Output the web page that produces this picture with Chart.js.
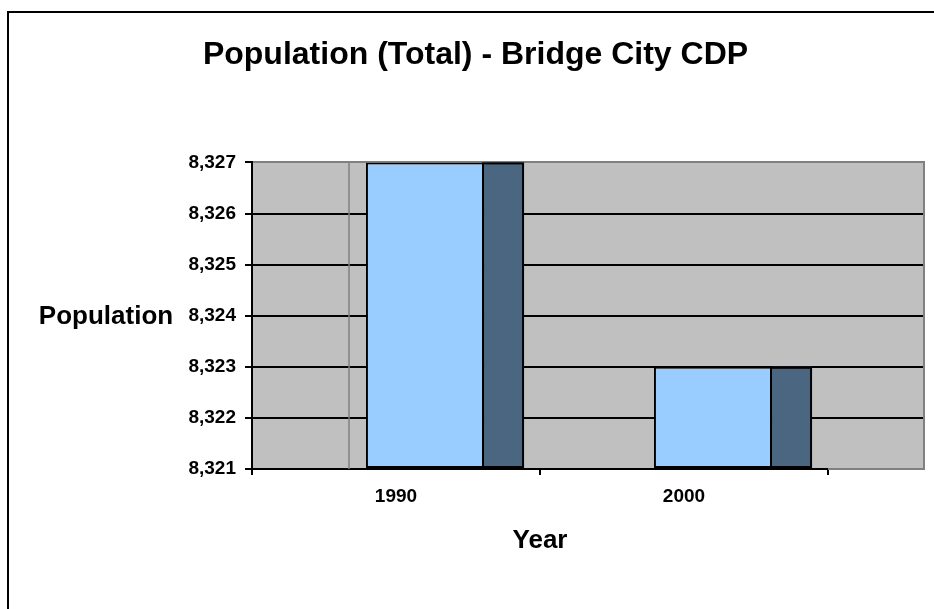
<!DOCTYPE html>
<html>
<head>
<meta charset="utf-8">
<title>Population (Total) - Bridge City CDP</title>
<script src="https://cdn.jsdelivr.net/npm/chart.js@4"></script>
<style>
  html, body { margin: 0; padding: 0; background: #fff; overflow: hidden; }
  .frame {
    position: absolute; left: 7px; top: 11px;
    width: 1000px; height: 700px;
    border: 2px solid #000;
  }
  .chart-box { position: absolute; left: 0; top: 0; width: 934px; height: 609px; }
</style>
</head>
<body>
<div class="frame"></div>
<div class="chart-box"><canvas id="popChart"></canvas></div>
<script>
// data
const years = ["1990", "2000"];
const population = [8327, 8323];
const yMin = 8321;
const yMax = 8327;
const yStep = 1;

// look of the old 3D column chart
const WALL = "#C0C0C0";
const EDGE = "#808080";
const FRONT = "#99CCFF";
const SIDE = "#4B6680";
const DEPTH = 97;       // how far the back wall sits to the right
const FRONT_SHIFT = 29; // bar front face offset into the depth
const SIDE_W = 40;      // visible side face of each column

Chart.defaults.font.family = "'Liberation Sans', Arial, sans-serif";
Chart.defaults.color = "#000";

// same pixel snapping Chart.js uses for its grid lines
const snap = (px, w) => Math.round(px - w / 2) + w / 2;

// gray side wall + back wall, gridlines running onto the back wall
const wallsPlugin = {
  id: "walls",
  beforeDraw(chart) {
    const { ctx, chartArea: a } = chart;
    ctx.save();
    ctx.fillStyle = WALL;
    ctx.fillRect(a.left, a.top, a.right - a.left + DEPTH, a.bottom - a.top);
    ctx.restore();
  },
  beforeDatasetsDraw(chart) {
    const { ctx, chartArea: a, scales } = chart;
    const y = scales.y;
    ctx.save();
    ctx.lineWidth = 2;
    y.ticks.forEach((t, i) => {
      const py = snap(y.getPixelForTick(i), 2);
      ctx.strokeStyle = t.value === yMin || t.value === yMax ? EDGE : "#000";
      ctx.beginPath();
      ctx.moveTo(a.right, py);
      ctx.lineTo(a.right + DEPTH, py);
      ctx.stroke();
    });
    // wall edges
    ctx.strokeStyle = EDGE;
    ctx.beginPath();
    ctx.moveTo(a.right + DEPTH - 1, a.top);
    ctx.lineTo(a.right + DEPTH - 1, a.bottom);
    ctx.stroke();
    ctx.lineWidth = 1.5;
    ctx.beginPath();
    ctx.moveTo(a.left + DEPTH, a.top);
    ctx.lineTo(a.left + DEPTH, a.bottom);
    ctx.stroke();
    ctx.restore();
  },
};

// push the front faces back into the box and draw the side faces
const columnPlugin = {
  id: "column3d",
  afterDatasetsUpdate(chart) {
    chart.getDatasetMeta(0).data.forEach((bar) => {
      bar.x += FRONT_SHIFT;
    });
  },
  afterDatasetsDraw(chart) {
    const { ctx, chartArea: a } = chart;
    ctx.save();
    chart.getDatasetMeta(0).data.forEach((bar) => {
      const { x, y, base, width } = bar.getProps(["x", "y", "base", "width"], true);
      const x0 = x + width / 2;
      const bottom = Math.min(base, a.bottom);
      const h = bottom - y;
      ctx.fillStyle = SIDE;
      ctx.fillRect(x0, y, SIDE_W, h);
      ctx.strokeStyle = "#000";
      ctx.lineWidth = 2;
      ctx.strokeRect(x0 - 1, y + 1, SIDE_W, h - 2);
    });
    ctx.restore();
  },
  afterDraw(chart) {
    // horizontal y axis title
    const { ctx, chartArea: a } = chart;
    ctx.save();
    ctx.font = "bold 26px 'Liberation Sans', Arial, sans-serif";
    ctx.fillStyle = "#000";
    ctx.textAlign = "center";
    ctx.textBaseline = "middle";
    ctx.fillText("Population", a.left - 146, (a.top + a.bottom) / 2 + 1);
    ctx.restore();
  },
};

const popChart = new Chart(document.getElementById("popChart"), {
  type: "bar",
  data: {
    labels: years,
    datasets: [
      {
        label: "Population",
        data: population,
        base: yMin,
        backgroundColor: FRONT,
        borderColor: "#000",
        borderWidth: 2,
        borderSkipped: false,
        barPercentage: 0.41,
        categoryPercentage: 1.0,
      },
    ],
  },
  options: {
    responsive: true,
    maintainAspectRatio: false,
    animation: false,
    layout: {
      padding: { left: 123, right: 106, top: 0, bottom: 53 },
    },
    plugins: {
      legend: { display: false },
      tooltip: { enabled: false },
      title: {
        display: true,
        text: "Population (Total) - Bridge City CDP",
        color: "#000",
        font: { size: 32, weight: "bold" },
        padding: { top: 36, bottom: 88 },
      },
    },
    scales: {
      x: {
        afterFit: (scale) => {
          scale.height = 87;
        },
        grid: {
          drawOnChartArea: false,
          offset: true,
          color: "#000",
          lineWidth: 2,
          tickLength: 6,
        },
        border: { color: "#000", width: 2 },
        ticks: {
          color: "#000",
          font: { size: 19, weight: "bold" },
          padding: 10,
        },
        title: {
          display: true,
          text: "Year",
          color: "#000",
          font: { size: 26, weight: "bold" },
          padding: { top: 5, bottom: 0 },
        },
      },
      y: {
        min: yMin,
        max: yMax,
        afterFit: (scale) => {
          scale.width = 129;
        },
        grid: {
          color: (c) => (c.tick && c.tick.value === yMax ? EDGE : "#000"),
          tickColor: "#000",
          lineWidth: 2,
          tickLength: 7,
        },
        border: { color: "#000", width: 2 },
        ticks: {
          stepSize: yStep,
          color: "#000",
          font: { size: 19, weight: "bold" },
          padding: 9,
          callback: (value) => value.toLocaleString("en-US"),
        },
      },
    },
  },
  plugins: [wallsPlugin, columnPlugin],
});
</script>
</body>
</html>
